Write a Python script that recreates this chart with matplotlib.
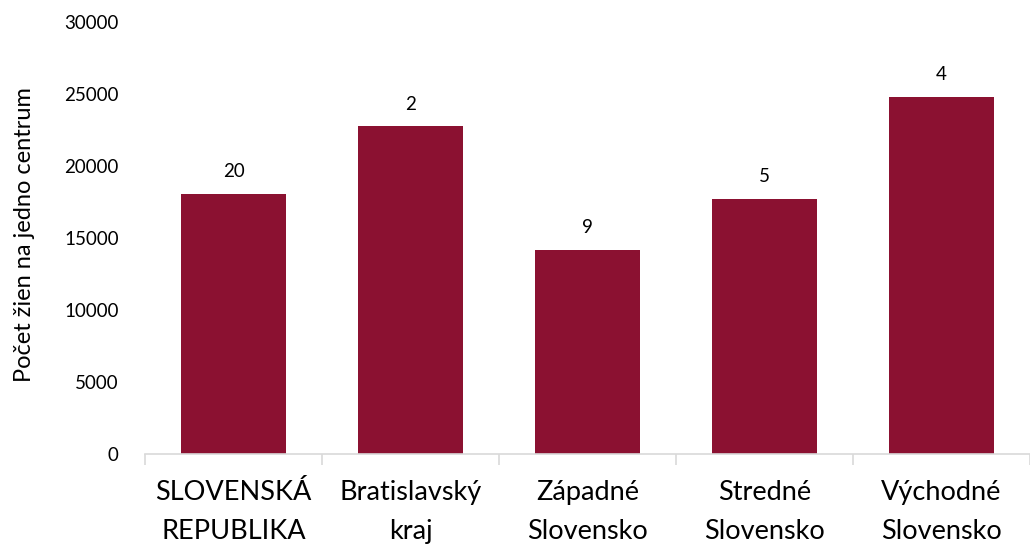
import matplotlib
matplotlib.use("Agg")
import matplotlib.pyplot as plt
import numpy as np

categories = ["SLOVENSKÁ\nREPUBLIKA", "Bratislavský\nkraj", "Západné\nSlovensko",
              "Stredné\nSlovensko", "Východné\nSlovensko"]
values = [18030, 22750, 14160, 17740, 24790]
bar_labels = ["20", "2", "9", "5", "4"]
yticks = [0, 5000, 10000, 15000, 20000, 25000, 30000]
ylabel = "Počet žien na jedno centrum"

plt.rcParams['font.family'] = ['Lato', 'DejaVu Sans']

fig = plt.figure(figsize=(10.30, 5.46), dpi=100)
ax = fig.add_axes([145/1030, (546-454)/546, 885/1030, (454-22)/546])

x = np.arange(len(categories))
bars = ax.bar(x, values, width=0.59, color="#8B1131", zorder=2)
for xi, v, lab in zip(x, values, bar_labels):
    ax.annotate(lab, (xi, v), xytext=(0, 10), textcoords="offset points",
                ha="center", va="bottom", fontsize=13.5, color="black")

ax.set_xlim(-0.5, -0.5 + 885/179)
ax.set_ylim(0, 30000)
ax.set_yticks(yticks)
ax.set_yticklabels([str(t) for t in yticks], fontsize=13.5)
ax.tick_params(axis="y", length=0, pad=19)
ax.set_xticks(x)
ax.set_xticklabels(categories, fontsize=19.5, linespacing=1.68)
ax.tick_params(axis="x", which="major", length=0, pad=19)
ax.set_xticks(np.arange(-0.5, len(categories), 1.0), minor=True)
ax.tick_params(axis="x", which="minor", length=8, color="#d9d9d9", width=1.2)

for s in ["top", "right", "left"]:
    ax.spines[s].set_visible(False)
ax.spines["bottom"].set_color("#d9d9d9")
ax.spines["bottom"].set_linewidth(1.2)

fig.text(25/1030, 1 - 235/546, ylabel, rotation=90, ha="center", va="center", fontsize=17)

fig.savefig("out.png", dpi=100)
